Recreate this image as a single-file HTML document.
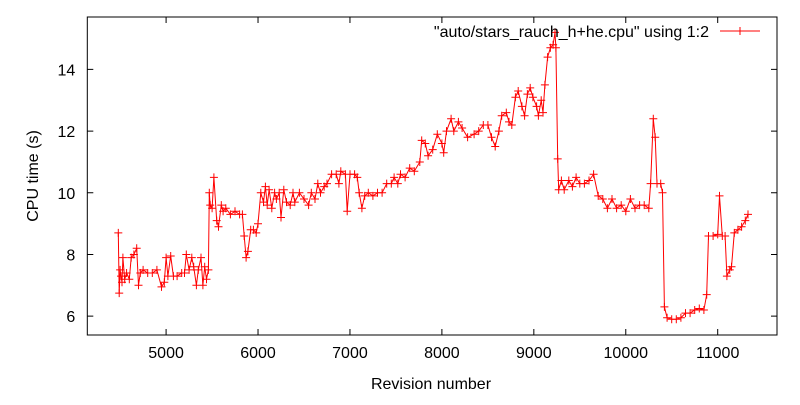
<!DOCTYPE html>
<html><head><meta charset="utf-8"><style>
html,body{margin:0;padding:0;background:#fff}
svg text{font-family:"Liberation Sans",sans-serif;font-size:16px;fill:#000}
</style></head><body>
<svg id="chart" width="800" height="400" viewBox="0 0 800 400" xmlns="http://www.w3.org/2000/svg">
<rect x="0" y="0" width="800" height="400" fill="#fff"/>
<g id="axes"></g>
<g id="series"></g>
<text transform="translate(38,176) rotate(-90)" text-anchor="middle">CPU time (s)</text>
<text x="431" y="389" text-anchor="middle">Revision number</text>
<g>
<text x="709" y="37" text-anchor="end">"auto/stars_rauch_h+he.cpu" using 1:2</text>
<line x1="720" y1="31" x2="760" y2="31" stroke="#f00" stroke-width="1"/>
<path d="M736 31h8M740 27v8" stroke="#f00" stroke-width="1"/>
</g>
</svg>
<script>
const revs=[4480,4490,4500,4510,4520,4530,4550,4570,4600,4620,4650,4680,4700,4720,4750,4800,4850,4900,4950,4980,5000,5020,5050,5080,5120,5170,5200,5220,5250,5280,5300,5330,5350,5380,5400,5420,5440,5460,5470,5480,5500,5520,5550,5570,5600,5620,5650,5700,5750,5800,5830,5850,5870,5890,5920,5950,5980,6000,6030,6060,6080,6100,6120,6150,6180,6200,6230,6250,6280,6310,6350,6380,6400,6450,6500,6550,6580,6620,6650,6680,6720,6750,6800,6850,6880,6900,6950,6970,7000,7050,7080,7100,7130,7160,7200,7250,7300,7350,7400,7450,7480,7520,7550,7600,7650,7700,7760,7780,7820,7850,7900,7950,8000,8020,8050,8100,8130,8180,8220,8280,8350,8400,8450,8500,8540,8580,8620,8650,8700,8730,8760,8800,8830,8870,8900,8930,8960,8990,9030,9050,9080,9100,9120,9150,9180,9210,9230,9240,9260,9270,9300,9330,9380,9420,9460,9500,9550,9600,9650,9700,9750,9800,9850,9900,9950,10000,10050,10100,10150,10200,10250,10270,10300,10320,10340,10380,10400,10420,10450,10500,10550,10600,10650,10700,10750,10800,10850,10880,10900,10950,11000,11020,11050,11080,11100,11130,11150,11180,11220,11260,11300,11330];
const cpu=[8.7,6.75,7.5,7.3,7.1,7.9,7.2,7.4,7.2,7.9,8.0,8.2,7.0,7.4,7.5,7.4,7.4,7.5,6.95,7.1,7.9,7.3,7.95,7.3,7.3,7.4,7.4,8.0,7.5,7.9,7.6,7.0,7.5,7.9,7.0,7.6,7.2,7.5,10.0,9.6,9.5,10.5,9.1,8.9,9.6,9.4,9.5,9.3,9.4,9.3,9.3,8.6,7.9,8.1,8.8,8.8,8.7,9.0,10.0,9.7,10.2,9.6,10.1,9.5,10.0,9.8,10.0,9.2,10.1,9.7,9.6,10.0,9.7,10.0,9.8,9.6,10.0,9.8,10.3,10.0,10.2,10.3,10.6,10.6,10.3,10.7,10.6,9.4,10.6,10.6,10.5,10.0,9.5,9.9,10.0,9.9,10.0,10.0,10.3,10.3,10.5,10.3,10.6,10.5,10.8,10.7,11.0,11.7,11.6,11.2,11.4,11.9,11.6,11.3,12.0,12.4,12.0,12.3,12.1,11.8,11.9,12.0,12.2,12.2,11.8,11.5,12.0,12.5,12.6,12.3,12.2,13.1,13.3,12.8,12.5,13.2,13.4,13.1,12.8,12.5,13.0,12.6,13.5,14.4,14.7,14.8,15.2,14.7,11.1,10.1,10.4,10.1,10.4,10.2,10.5,10.3,10.3,10.4,10.6,9.9,9.8,9.5,9.8,9.5,9.6,9.4,9.8,9.5,9.6,9.6,9.5,10.3,12.4,11.8,10.3,10.3,10.0,6.3,5.95,5.9,5.9,5.95,6.1,6.1,6.2,6.25,6.2,6.7,8.6,8.6,8.65,9.9,8.6,8.6,7.3,7.5,7.6,8.7,8.8,8.9,9.1,9.3];
const xTicks=[5000,6000,7000,8000,9000,10000,11000];
const yTicks=[6,8,10,12,14];
const XMIN=4143,XMAX=11645,YMIN=5.39,YMAX=15.7;
const L=87.3,R=777,T=17,B=335;
function sx(v){return L+(v-XMIN)/(XMAX-XMIN)*(R-L);}
function sy(v){return B-(v-YMIN)/(YMAX-YMIN)*(B-T);}
const NS="http://www.w3.org/2000/svg";
const axes=document.getElementById('axes');
const frame=document.createElementNS(NS,'rect');


frame.setAttribute('x',L);frame.setAttribute('y',T);frame.setAttribute('width',R-L);frame.setAttribute('height',B-T);
frame.setAttribute('fill','none');frame.setAttribute('stroke','#000');
axes.appendChild(frame);
xTicks.forEach(t=>{
  const x=sx(t);
  const p=document.createElementNS(NS,'path');
  
  
  p.setAttribute('d',`M${x} ${B}v-6M${x} ${T}v6`);p.setAttribute('stroke','#000');
  axes.appendChild(p);
  const tx=document.createElementNS(NS,'text');
  
  
  tx.setAttribute('x',x);tx.setAttribute('y',B+23);tx.setAttribute('text-anchor','middle');
  tx.textContent=t;axes.appendChild(tx);
});
yTicks.forEach(t=>{
  const y=sy(t);
  const p=document.createElementNS(NS,'path');
  
  
  p.setAttribute('d',`M${L} ${y}h6M${R} ${y}h-6`);p.setAttribute('stroke','#000');
  axes.appendChild(p);
  const tx=document.createElementNS(NS,'text');
  
  
  tx.setAttribute('x',L-12);tx.setAttribute('y',y+6);tx.setAttribute('text-anchor','end');
  tx.textContent=t;axes.appendChild(tx);
});
const g=document.getElementById('series');
let d='';
revs.forEach((r,i)=>{d+=(i?'L':'M')+sx(r).toFixed(1)+' '+sy(cpu[i]).toFixed(1);});
const line=document.createElementNS(NS,'path');


line.setAttribute('d',d);line.setAttribute('fill','none');line.setAttribute('stroke','#f00');
g.appendChild(line);
let m='';
revs.forEach((r,i)=>{const x=sx(r),y=sy(cpu[i]);m+=`M${(x-4).toFixed(1)} ${y.toFixed(1)}h8M${x.toFixed(1)} ${(y-4).toFixed(1)}v8`;});
const marks=document.createElementNS(NS,'path');


marks.setAttribute('d',m);marks.setAttribute('stroke','#f00');marks.setAttribute('fill','none');
g.appendChild(marks);
</script>
</body></html>
